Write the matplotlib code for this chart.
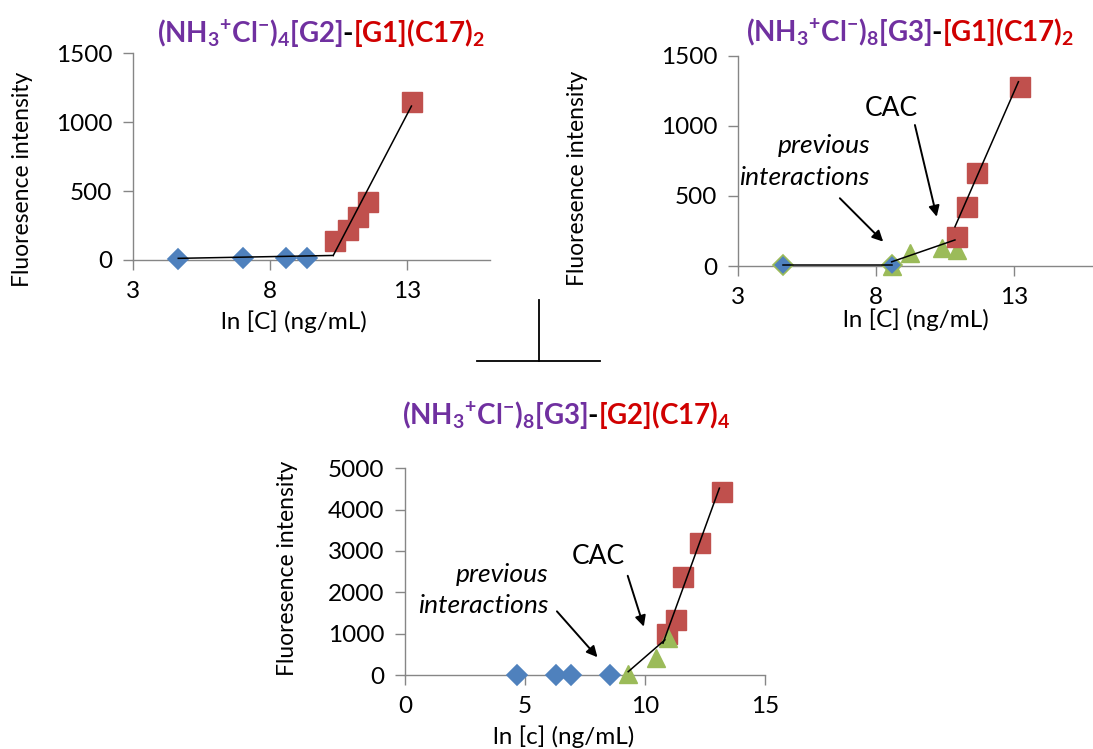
import matplotlib
matplotlib.use("Agg")
import matplotlib.pyplot as plt
from matplotlib.lines import Line2D

plt.rcParams["font.family"] = ["Lato", "DejaVu Sans"]
plt.rcParams["mathtext.fontset"] = "custom"
plt.rcParams["mathtext.rm"] = "Lato:bold"
plt.rcParams["mathtext.bf"] = "Lato:bold"
plt.rcParams["mathtext.it"] = "Lato:bold:italic"
plt.rcParams["mathtext.default"] = "rm"

# ---------------- data ----------------
# (NH3+Cl-)4[G2]-[G1](C17)2
p1_blue_x = [4.65, 7.0, 8.58, 9.33]
p1_blue_y = [8, 15, 15, 15]
p1_red_x = [10.36, 10.85, 11.21, 11.58, 13.16]
p1_red_y = [140, 218, 314, 423, 1149]
p1_fit_low_x = [4.65, 10.3]
p1_fit_low_y = [12, 33]
p1_fit_high_x = [10.3, 13.15]
p1_fit_high_y = [33, 1117]

# (NH3+Cl-)8[G3]-[G1](C17)2
p2_blue_x = [4.64, 8.57]
p2_blue_y = [5, 5]
p2_green_x = [8.57, 9.23, 10.38, 10.92]
p2_green_y = [0, 91, 126, 114]
p2_red_x = [10.92, 11.29, 11.65, 13.22]
p2_red_y = [209, 423, 666, 1281]
p2_fit_low_x = [4.64, 8.57]
p2_fit_low_y = [10, 10]
p2_fit_mid_x = [8.57, 10.86]
p2_fit_mid_y = [30, 186]
p2_fit_high_x = [10.86, 13.16]
p2_fit_high_y = [280, 1316]

# (NH3+Cl-)8[G3]-[G2](C17)4
p3_blue_x = [4.65, 6.3, 6.9, 8.54]
p3_blue_y = [0, 0, 0, 0]
p3_green_x = [9.3, 10.46, 10.96]
p3_green_y = [20, 411, 895]
p3_red_x = [10.9, 11.3, 11.6, 12.3, 13.2]
p3_red_y = [990, 1330, 2370, 3193, 4434]
p3_fit_mid_x = [9.3, 10.83]
p3_fit_mid_y = [80, 850]
p3_fit_high_x = [10.75, 13.1]
p3_fit_high_y = [770, 4520]

ylabel_text = "Fluoresence intensity"
xlabel_upper = "ln [C] (ng/mL)"
xlabel_lower = "ln [c] (ng/mL)"

BLUE = "#4F81BD"
RED = "#C0504D"
GREEN = "#9BBB59"
PURPLE = "#7030A0"
TITLE_RED = "#D00000"
AXIS_GRAY = "#868686"

W, H = 1093, 749
fig = plt.figure(figsize=(W / 100, H / 100), dpi=100)


def axes_px(left, right, top, bottom):
    return fig.add_axes([left / W, 1 - bottom / H, (right - left) / W, (bottom - top) / H])


def style_axes(ax, xlim, xticks, ylim, yticks):
    ax.set_xlim(*xlim)
    ax.set_ylim(*ylim)
    ax.set_xticks(xticks)
    ax.set_yticks(yticks)
    for side in ("top", "right"):
        ax.spines[side].set_visible(False)
    for side in ("left", "bottom"):
        ax.spines[side].set_color(AXIS_GRAY)
        ax.spines[side].set_linewidth(1.0)
    ax.tick_params(axis="both", direction="out", length=7, width=1.0,
                   color=AXIS_GRAY, labelsize=17.5, labelcolor="black")
    ax.tick_params(axis="y", pad=8)
    ax.tick_params(axis="x", pad=8)
    ax.patch.set_alpha(0)


def fig_text_px(x, y, s, **kw):
    return fig.text(x / W, 1 - y / H, s, **kw)


def colored_title(xc, y, pieces, size=20):
    renderer = fig.canvas.get_renderer()
    texts = []
    widths = []
    for s, c in pieces:
        t = fig.text(0, 1 - y / H, s, color=c, fontsize=size, fontweight="bold",
                     ha="left", va="baseline")
        widths.append(t.get_window_extent(renderer).width)
        texts.append(t)
    x = xc - sum(widths) / 2
    for t, w in zip(texts, widths):
        t.set_x(x / W)
        x += w


def diamond(ax, x, y, edge=None):
    ax.plot(x, y, "D", ms=10, color=BLUE, mec=edge or BLUE, mew=1.2,
            linestyle="none", zorder=3, clip_on=False)


def squares(ax, x, y):
    ax.plot(x, y, "s", ms=14, color=RED, mec=RED, linestyle="none", zorder=3,
            clip_on=False)


def triangles(ax, x, y):
    ax.plot(x, y, "^", ms=13, color=GREEN, mec=GREEN, linestyle="none", zorder=3,
            clip_on=False)


def fit(ax, x, y):
    ax.plot(x, y, "-", color="black", lw=1.1, zorder=5, clip_on=False)


arrow_kw = dict(arrowstyle="-|>", color="black", lw=1.4, mutation_scale=16,
                shrinkA=0, shrinkB=0)

# ---------------- panel 1 ----------------
ax1 = axes_px(133, 489.6, 53.3, 260)
style_axes(ax1, (3, 16), [3, 8, 13], (0, 1500), [0, 500, 1000, 1500])
diamond(ax1, p1_blue_x, p1_blue_y)
squares(ax1, p1_red_x, p1_red_y)
fit(ax1, p1_fit_low_x, p1_fit_low_y)
fit(ax1, p1_fit_high_x, p1_fit_high_y)

# ---------------- panel 2 ----------------
ax2 = axes_px(738, 1096.8, 56, 266)
style_axes(ax2, (3, 16), [3, 8, 13], (0, 1500), [0, 500, 1000, 1500])
triangles(ax2, p2_green_x, p2_green_y)
squares(ax2, p2_red_x, p2_red_y)
diamond(ax2, p2_blue_x, p2_blue_y, edge=GREEN)
fit(ax2, p2_fit_low_x, p2_fit_low_y)
fit(ax2, p2_fit_mid_x, p2_fit_mid_y)
fit(ax2, p2_fit_high_x, p2_fit_high_y)
ax2.text(8.57, 1126, "CAC", fontsize=19, ha="center", va="center")
ax2.annotate("", xy=(10.2, 352), xytext=(9.41, 1007), arrowprops=arrow_kw)
ax2.text(7.78, 859, "previous", fontsize=19, style="italic", ha="right", va="center")
ax2.text(7.78, 629, "interactions", fontsize=19, style="italic", ha="right", va="center")
ax2.annotate("", xy=(8.26, 174), xytext=(6.69, 484), arrowprops=arrow_kw)

# ---------------- panel 3 ----------------
ax3 = axes_px(405, 765, 468.3, 675)
style_axes(ax3, (0, 15), [0, 5, 10, 15], (0, 5000), [0, 1000, 2000, 3000, 4000, 5000])
diamond(ax3, p3_blue_x, p3_blue_y)
squares(ax3, p3_red_x, p3_red_y)
triangles(ax3, p3_green_x, p3_green_y)
fit(ax3, p3_fit_mid_x, p3_fit_mid_y)
fit(ax3, p3_fit_high_x, p3_fit_high_y)
ax3.text(8.04, 2855, "CAC", fontsize=19, ha="center", va="center")
ax3.annotate("", xy=(9.95, 1170), xytext=(9.28, 2400), arrowprops=arrow_kw)
ax3.text(5.96, 2420, "previous", fontsize=19, style="italic", ha="right", va="center")
ax3.text(5.96, 1670, "interactions", fontsize=19, style="italic", ha="right", va="center")
ax3.annotate("", xy=(8.02, 430), xytext=(6.33, 1540), arrowprops=arrow_kw)

# ---------------- axis labels ----------------
fig_text_px(23, 179, ylabel_text, rotation=90, fontsize=16.5, ha="center", va="center")
fig_text_px(577, 178, ylabel_text, rotation=90, fontsize=16.5, ha="center", va="center")
fig_text_px(287, 568, ylabel_text, rotation=90, fontsize=16.5, ha="center", va="center")
fig_text_px(294, 322, xlabel_upper, fontsize=17.5, ha="center", va="center")
fig_text_px(916, 320, xlabel_upper, fontsize=17.5, ha="center", va="center")
fig_text_px(564, 737, xlabel_lower, fontsize=17.5, ha="center", va="center")

# ---------------- titles ----------------
colored_title(321, 42, [("(NH$_{3}$$^{+}$Cl$^{-}$)$_{4}$[G2]", PURPLE), ("-", "black"),
                        ("[G1](C17)$_{2}$", TITLE_RED)])
colored_title(910, 41, [("(NH$_{3}$$^{+}$Cl$^{-}$)$_{8}$[G3]", PURPLE), ("-", "black"),
                        ("[G1](C17)$_{2}$", TITLE_RED)])
colored_title(566, 424, [("(NH$_{3}$$^{+}$Cl$^{-}$)$_{8}$[G3]", PURPLE), ("-", "black"),
                         ("[G2](C17)$_{4}$", TITLE_RED)])

# ---------------- connector between the panels ----------------
fig.add_artist(Line2D([539.3 / W, 539.3 / W], [1 - 300 / H, 1 - 360.7 / H],
                      color="black", lw=1.3))
fig.add_artist(Line2D([476.7 / W, 600 / W], [1 - 360.7 / H, 1 - 360.7 / H],
                      color="black", lw=1.3))

fig.savefig("out.png", dpi=100)
